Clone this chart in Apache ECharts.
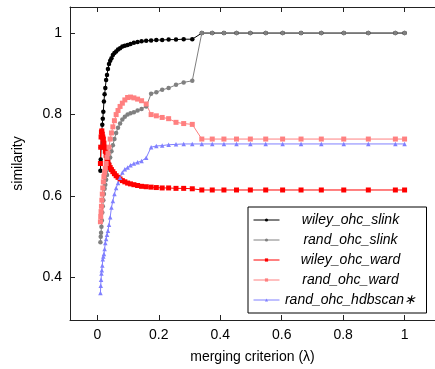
<!DOCTYPE html>
<html>
<head>
<meta charset="utf-8">
<script src="https://cdn.jsdelivr.net/npm/echarts@6/dist/echarts.min.js"></script>
<style>
html,body{margin:0;padding:0;background:#fff;}
#chart{width:435px;height:369px;}
</style>
</head>
<body>
<div id="chart"></div>
<script>
const lambdas = [0.01, 0.011, 0.0121, 0.0133, 0.0146, 0.0161, 0.0177, 0.0195, 0.0214, 0.0236, 0.0259, 0.0285, 0.0314, 0.0345, 0.038, 0.0418, 0.0459, 0.0505, 0.0556, 0.0612, 0.0673, 0.074, 0.0814, 0.0895, 0.0985, 0.108, 0.119, 0.131, 0.144, 0.159, 0.175, 0.192, 0.211, 0.232, 0.256, 0.281, 0.309, 0.340, 0.374, 0.412, 0.453, 0.498, 0.548, 0.603, 0.663, 0.729, 0.802, 0.882, 0.970, 1.0];

const wileySlink = [0.662, 0.69, 0.72, 0.745, 0.76, 0.775, 0.79, 0.807, 0.832, 0.85, 0.865, 0.885, 0.897, 0.912, 0.924, 0.932, 0.938, 0.946, 0.951, 0.955, 0.96, 0.963, 0.967, 0.969, 0.971, 0.973, 0.976, 0.978, 0.98, 0.981, 0.982, 0.983, 0.983, 0.984, 0.984, 0.985, 0.985, 1.0, 1.0, 1.0, 1.0, 1.0, 1.0, 1.0, 1.0, 1.0, 1.0, 1.0, 1.0, 1.0];

const randSlink = [0.487, 0.50, 0.51, 0.525, 0.54, 0.56, 0.575, 0.59, 0.605, 0.618, 0.628, 0.64, 0.652, 0.665, 0.68, 0.695, 0.71, 0.725, 0.74, 0.755, 0.768, 0.778, 0.788, 0.795, 0.80, 0.803, 0.806, 0.81, 0.814, 0.82, 0.851, 0.855, 0.861, 0.865, 0.873, 0.879, 0.883, 1.0, 1.0, 1.0, 1.0, 1.0, 1.0, 1.0, 1.0, 1.0, 1.0, 1.0, 1.0, 1.0];

const wileyWard = [0.68, 0.72, 0.745, 0.757, 0.76, 0.752, 0.745, 0.74, 0.73, 0.72, 0.71, 0.70, 0.69, 0.683, 0.676, 0.67, 0.665, 0.66, 0.655, 0.65, 0.646, 0.642, 0.638, 0.635, 0.632, 0.63, 0.628, 0.626, 0.624, 0.623, 0.622, 0.621, 0.62, 0.62, 0.619, 0.619, 0.618, 0.615, 0.615, 0.615, 0.615, 0.615, 0.615, 0.615, 0.615, 0.615, 0.615, 0.615, 0.615, 0.615];

const randWard = [0.537, 0.55, 0.562, 0.575, 0.59, 0.605, 0.62, 0.635, 0.648, 0.658, 0.668, 0.68, 0.695, 0.705, 0.72, 0.74, 0.755, 0.77, 0.785, 0.80, 0.81, 0.82, 0.828, 0.836, 0.842, 0.843, 0.841, 0.838, 0.834, 0.826, 0.80, 0.797, 0.793, 0.79, 0.781, 0.778, 0.776, 0.74, 0.74, 0.74, 0.74, 0.74, 0.74, 0.74, 0.74, 0.74, 0.74, 0.74, 0.74, 0.74];

const randHdbscan = [0.362, 0.38, 0.395, 0.41, 0.418, 0.43, 0.445, 0.452, 0.458, 0.47, 0.485, 0.495, 0.505, 0.515, 0.53, 0.548, 0.572, 0.588, 0.605, 0.62, 0.632, 0.645, 0.658, 0.666, 0.67, 0.676, 0.68, 0.683, 0.686, 0.694, 0.72, 0.723, 0.724, 0.726, 0.727, 0.728, 0.728, 0.728, 0.728, 0.728, 0.728, 0.728, 0.728, 0.728, 0.728, 0.728, 0.728, 0.728, 0.728, 0.728];

const seriesNames = ['wiley_ohc_slink', 'rand_ohc_slink', 'wiley_ohc_ward', 'rand_ohc_ward', 'rand_ohc_hdbscan∗'];
const xTicks = [0, 0.2, 0.4, 0.6, 0.8, 1];
const yTicks = [0.4, 0.6, 0.8, 1];

const FONT = '"Liberation Sans", Arial, sans-serif';

function pairs(ys) { return lambdas.map((x, i) => [x, ys[i]]); }

const styles = [
  {data: wileySlink, color: '#000000', symbol: 'circle', size: 4.5},
  {data: randSlink, color: '#808080', symbol: 'circle', size: 4.5},
  {data: wileyWard, color: '#ff0000', symbol: 'rect', size: 5},
  {data: randWard, color: '#ff8080', symbol: 'rect', size: 5},
  {data: randHdbscan, color: '#8080ff', symbol: 'triangle', size: 4.5}
];

const chart = echarts.init(document.getElementById('chart'), null, {renderer: 'canvas'});

const axisLineStyle = {color: '#222', width: 1};

chart.setOption({
  animation: false,
  backgroundColor: '#fff',
  grid: {left: 70, right: -3, top: 7, bottom: 46, containLabel: false},
  xAxis: [{
    type: 'value', min: -0.089, max: 1.099, position: 'bottom',
    name: 'merging criterion (λ)', nameLocation: 'middle', nameGap: 30,
    nameTextStyle: {fontFamily: FONT, fontSize: 14, color: '#000'},
    axisLine: {show: true, onZero: false, lineStyle: axisLineStyle},
    axisTick: {show: true, inside: true, length: 5, lineStyle: axisLineStyle, customValues: xTicks},
    axisLabel: {show: true, margin: 8, fontFamily: FONT, fontSize: 14, color: '#000', customValues: xTicks,
      formatter: v => String(Math.round(v * 10) / 10)},
    splitLine: {show: false}
  }, {
    type: 'value', min: -0.089, max: 1.099, position: 'top',
    axisLine: {show: true, onZero: false, lineStyle: axisLineStyle},
    axisTick: {show: true, inside: true, length: 5, lineStyle: axisLineStyle, customValues: xTicks},
    axisLabel: {show: false},
    splitLine: {show: false}
  }],
  yAxis: [{
    type: 'value', min: 0.296, max: 1.064, position: 'left',
    name: 'similarity', nameLocation: 'middle', nameGap: 45,
    nameTextStyle: {fontFamily: FONT, fontSize: 14, color: '#000'},
    axisLine: {show: true, onZero: false, lineStyle: axisLineStyle},
    axisTick: {show: true, inside: true, length: 5, lineStyle: axisLineStyle, customValues: yTicks},
    axisLabel: {show: true, margin: 8, fontFamily: FONT, fontSize: 14, color: '#000', customValues: yTicks,
      formatter: v => String(Math.round(v * 10) / 10)},
    splitLine: {show: false}
  }],
  legend: {
    orient: 'vertical', left: 248, top: 207,
    data: seriesNames,
    backgroundColor: '#fff', borderColor: '#000', borderWidth: 1, borderRadius: 0,
    padding: [6, 10, 6, 5],
    itemWidth: 26, itemHeight: 4, itemGap: 6,
    lineStyle: {width: 1},
    formatter: '{n|{name}}',
    textStyle: {
      fontFamily: FONT, fontSize: 14, fontStyle: 'italic', color: '#000',
      rich: {n: {width: 132, align: 'center', fontFamily: FONT, fontSize: 14, fontStyle: 'italic', lineHeight: 14}}
    }
  },
  series: styles.map((s, i) => ({
    name: seriesNames[i],
    type: 'line',
    data: pairs(s.data),
    symbol: s.symbol,
    symbolSize: s.size,
    showSymbol: true,
    lineStyle: {color: s.color, width: 1},
    itemStyle: {color: s.color, borderWidth: 0},
    emphasis: {disabled: true},
    clip: false
  }))
});
</script>
</body>
</html>
